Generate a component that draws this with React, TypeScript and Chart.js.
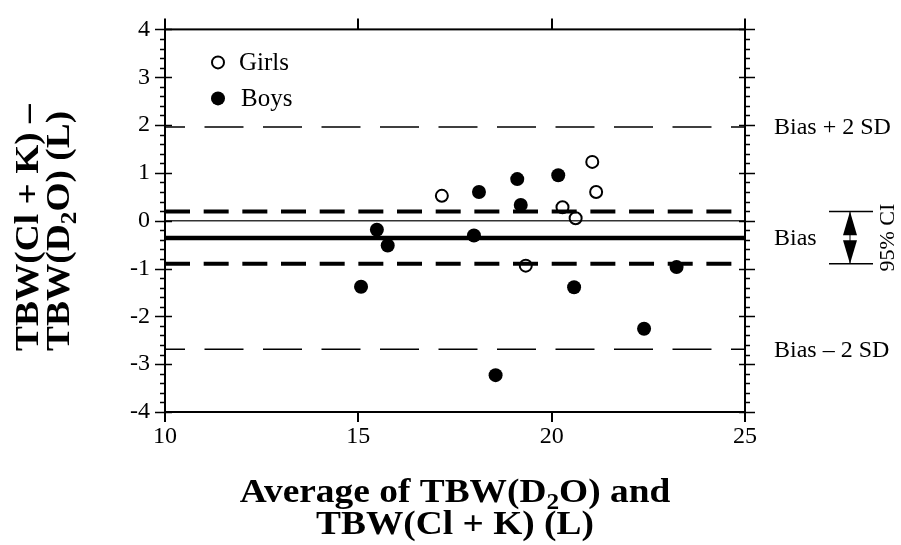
import React, { useEffect, useRef } from "react";
import { Chart, registerables } from "chart.js";

Chart.register(...registerables);

// ---- data ----
const GIRLS_X = [17.16, 19.33, 20.28, 20.62, 21.05, 21.15];
const GIRLS_Y = [0.52, -0.94, 0.28, 0.05, 1.23, 0.6];

const BOYS_X = [15.07, 15.48, 15.76, 17.99, 18.12, 18.55, 19.11, 19.2, 20.17, 20.58, 22.39, 23.23];
const BOYS_Y = [-1.38, -0.19, -0.52, -0.31, 0.6, -3.23, 0.87, 0.33, 0.95, -1.39, -2.26, -0.97];

const BIAS = -0.36;
const CI_UPPER = 0.19;
const CI_LOWER = -0.9;
const LOA_UPPER = 1.96;
const LOA_LOWER = -2.69;
const ZERO = 0;

const X_RANGE = [10, 25];
const Y_RANGE = [-4, 4];
const X_TICKS = [10, 15, 20, 25];
const Y_TICKS = [-4, -3, -2, -1, 0, 1, 2, 3, 4];
const Y_MINOR_STEP = 0.2;

const LEGEND_LABELS = ["Girls", "Boys"];
const RIGHT_LABELS = ["Bias + 2 SD", "Bias", "Bias \u2013 2 SD"];
const CI_LABEL = "95% CI";

const SERIF = "'Liberation Serif', 'Times New Roman', serif";

function hline(value: number) {
  return [
    { x: X_RANGE[0], y: value },
    { x: X_RANGE[1], y: value },
  ];
}

// draws bold title text with optional subscripts, stretched horizontally
function drawSubText(
  ctx: CanvasRenderingContext2D,
  parts: { t: string; sub?: boolean }[],
  x: number,
  y: number,
  size: number,
  align: "left" | "center",
  stretch = 1.1
) {
  const big = `bold ${size}px ${SERIF}`;
  const small = `bold ${Math.round(size * 0.68)}px ${SERIF}`;
  let total = 0;
  const widths = parts.map((p) => {
    ctx.font = p.sub ? small : big;
    const w = ctx.measureText(p.t).width;
    total += w;
    return w;
  });
  ctx.save();
  ctx.translate(x, y);
  ctx.scale(stretch, 1);
  let cx = align === "center" ? -total / 2 : 0;
  ctx.textAlign = "left";
  ctx.textBaseline = "alphabetic";
  parts.forEach((p, i) => {
    ctx.font = p.sub ? small : big;
    ctx.fillText(p.t, cx, p.sub ? size * 0.2 : 0);
    cx += widths[i];
  });
  ctx.restore();
}

const decorPlugin = {
  id: "decor",
  afterDraw(chart: any) {
    const { ctx, chartArea: a, scales } = chart;
    const xs = scales.x;
    const ys = scales.y;
    ctx.save();
    ctx.strokeStyle = "#000";
    ctx.fillStyle = "#000";

    // frame
    ctx.lineWidth = 2;
    ctx.strokeRect(a.left, a.top, a.right - a.left, a.bottom - a.top);

    // y ticks (minor + major), both sides
    const n = Math.round((Y_RANGE[1] - Y_RANGE[0]) / Y_MINOR_STEP);
    ctx.lineWidth = 1.6;
    for (let i = 0; i <= n; i++) {
      const v = Y_RANGE[0] + i * Y_MINOR_STEP;
      const py = Math.round(ys.getPixelForValue(v)) + 0.5;
      const major = Y_TICKS.some((t) => Math.abs(t - v) < 1e-6);
      ctx.beginPath();
      if (major) {
        ctx.moveTo(a.left - 10, py);
        ctx.lineTo(a.left + 7, py);
        ctx.moveTo(a.right - 6, py);
        ctx.lineTo(a.right + 10, py);
      } else {
        ctx.moveTo(a.left - 5, py);
        ctx.lineTo(a.left, py);
        ctx.moveTo(a.right, py);
        ctx.lineTo(a.right + 5, py);
      }
      ctx.stroke();
    }
    // x ticks
    ctx.lineWidth = 2;
    X_TICKS.forEach((t) => {
      const px = Math.round(xs.getPixelForValue(t));
      ctx.beginPath();
      ctx.moveTo(px, a.bottom);
      ctx.lineTo(px, a.bottom + 10);
      ctx.moveTo(px, a.top - 11);
      ctx.lineTo(px, a.top);
      ctx.stroke();
    });

    // legend
    const lx = a.left + 53;
    const ly1 = a.top + 33;
    const ly2 = a.top + 69;
    ctx.lineWidth = 2;
    ctx.beginPath();
    ctx.arc(lx, ly1, 6, 0, Math.PI * 2);
    ctx.stroke();
    ctx.beginPath();
    ctx.arc(lx, ly2, 7, 0, Math.PI * 2);
    ctx.fill();
    ctx.font = `25px ${SERIF}`;
    ctx.textAlign = "left";
    ctx.textBaseline = "middle";
    ctx.fillText(LEGEND_LABELS[0], lx + 21, ly1 + 1);
    ctx.fillText(LEGEND_LABELS[1], lx + 23, ly2 + 1);

    // right labels
    ctx.font = `24px ${SERIF}`;
    const rx = a.right + 29;
    ctx.fillText(RIGHT_LABELS[0], rx, ys.getPixelForValue(LOA_UPPER) + 1);
    ctx.fillText(RIGHT_LABELS[1], rx, ys.getPixelForValue(BIAS) + 1);
    ctx.fillText(RIGHT_LABELS[2], rx, ys.getPixelForValue(LOA_LOWER) + 1);

    // CI bracket
    const yTop = ys.getPixelForValue(CI_UPPER);
    const yBot = ys.getPixelForValue(CI_LOWER);
    const ax = a.right + 105;
    ctx.lineWidth = 1.5;
    ctx.beginPath();
    ctx.moveTo(ax - 21, yTop);
    ctx.lineTo(ax + 23, yTop);
    ctx.moveTo(ax - 21, yBot);
    ctx.lineTo(ax + 23, yBot);
    ctx.stroke();
    ctx.lineWidth = 1;
    ctx.beginPath();
    ctx.moveTo(ax, yTop);
    ctx.lineTo(ax, yBot);
    ctx.stroke();
    const mid = (yTop + yBot) / 2;
    ctx.beginPath();
    ctx.moveTo(ax, yTop);
    ctx.lineTo(ax - 7, mid - 2.5);
    ctx.lineTo(ax + 7, mid - 2.5);
    ctx.closePath();
    ctx.fill();
    ctx.beginPath();
    ctx.moveTo(ax, yBot);
    ctx.lineTo(ax - 7, mid + 2.5);
    ctx.lineTo(ax + 7, mid + 2.5);
    ctx.closePath();
    ctx.fill();

    // 95% CI rotated
    ctx.save();
    ctx.translate(a.right + 143, mid);
    ctx.rotate(-Math.PI / 2);
    ctx.font = `22px ${SERIF}`;
    ctx.textAlign = "center";
    ctx.textBaseline = "middle";
    ctx.fillText(CI_LABEL, 0, 0);
    ctx.restore();

    // x title
    const cx = (a.left + a.right) / 2;
    drawSubText(
      ctx,
      [{ t: "Average of TBW(D" }, { t: "2", sub: true }, { t: "O) and" }],
      cx,
      a.bottom + 90,
      34,
      "center"
    );
    drawSubText(ctx, [{ t: "TBW(Cl + K) (L)" }], cx, a.bottom + 122, 34, "center");

    // y title
    ctx.save();
    ctx.translate(0, 351);
    ctx.rotate(-Math.PI / 2);
    drawSubText(ctx, [{ t: "TBW(Cl + K) \u2013" }], 0, 38, 34, "left");
    drawSubText(
      ctx,
      [{ t: "TBW(D" }, { t: "2", sub: true }, { t: "O) (L)" }],
      0,
      69,
      34,
      "left"
    );
    ctx.restore();

    ctx.restore();
  },
};

export default function App() {
  const ref = useRef<HTMLCanvasElement | null>(null);

  useEffect(() => {
    if (!ref.current) return;
    const lineDs = (value: number, width: number, dash: number[], offset: number, color = "#000") => ({
      type: "line" as const,
      data: hline(value),
      borderColor: color,
      borderWidth: width,
      borderDash: dash,
      borderDashOffset: offset,
      pointRadius: 0,
      showLine: true,
      fill: false,
      tension: 0,
    });
    const chart = new Chart(ref.current, {
      type: "scatter",
      data: {
        datasets: [
          {
            label: LEGEND_LABELS[0],
            data: GIRLS_X.map((x, i) => ({ x, y: GIRLS_Y[i] })),
            pointRadius: 6,
            pointBorderWidth: 2,
            pointBackgroundColor: "rgba(0,0,0,0)",
            pointBorderColor: "#000",
            showLine: false,
          },
          {
            label: LEGEND_LABELS[1],
            data: BOYS_X.map((x, i) => ({ x, y: BOYS_Y[i] })),
            pointRadius: 7,
            pointBorderWidth: 0,
            pointBackgroundColor: "#000",
            pointBorderColor: "#000",
            showLine: false,
          },
          lineDs(ZERO, 1.5, [], 0, "#333"),
          lineDs(BIAS, 4.5, [], 0),
          lineDs(CI_UPPER, 4, [25, 13.67], 0),
          lineDs(CI_LOWER, 4, [25, 13.67], 0),
          lineDs(LOA_UPPER, 1.5, [39, 19.5], 19),
          lineDs(LOA_LOWER, 1.5, [39, 19.5], 19),
        ] as any,
      },
      options: {
        responsive: false,
        animation: false,
        events: [],
        devicePixelRatio: 1,
        layout: { padding: { left: 105, right: 156, top: 28, bottom: 73 } },
        plugins: { legend: { display: false }, tooltip: { enabled: false } },
        scales: {
          x: {
            type: "linear",
            position: "bottom",
            min: X_RANGE[0],
            max: X_RANGE[1],
            afterBuildTicks: (s: any) => {
              s.ticks = X_TICKS.map((v) => ({ value: v }));
            },
            afterFit: (s: any) => {
              s.height = 60;
            },
            grid: { display: false, drawTicks: false },
            border: { display: false },
            ticks: {
              font: { family: SERIF, size: 24 },
              color: "#000",
              padding: 10,
              maxRotation: 0,
            },
          },
          y: {
            type: "linear",
            min: Y_RANGE[0],
            max: Y_RANGE[1],
            afterBuildTicks: (s: any) => {
              s.ticks = Y_TICKS.map((v) => ({ value: v }));
            },
            afterFit: (s: any) => {
              s.width = 60;
            },
            grid: { display: false, drawTicks: false },
            border: { display: false },
            ticks: {
              font: { family: SERIF, size: 24 },
              color: "#000",
              padding: 15,
            },
          },
        },
      },
      plugins: [decorPlugin],
    });
    return () => chart.destroy();
  }, []);

  return (
    <div style={{ position: "absolute", left: 0, top: 0, width: 901, height: 545, background: "#fff" }}>
      <canvas ref={ref} width={901} height={545} style={{ display: "block" }} />
    </div>
  );
}
